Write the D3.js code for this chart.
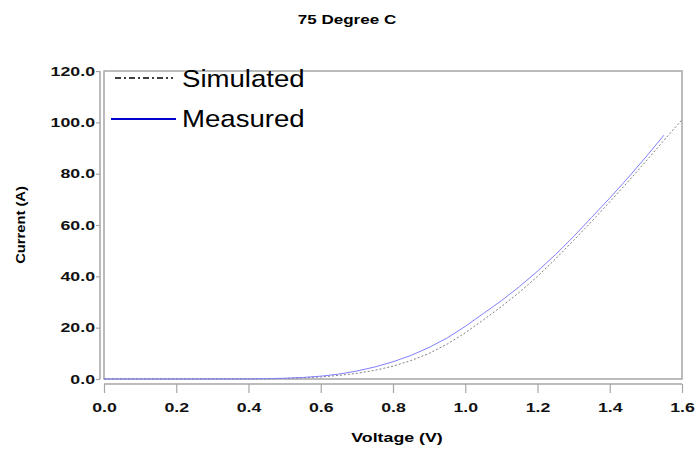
<!DOCTYPE html>
<html>
<head>
<meta charset="utf-8">
<script src="https://cdn.jsdelivr.net/npm/d3@7"></script>
<style>
  body { margin: 0; background: #fff; }
  svg { display: block; font-family: "Liberation Sans", Arial, sans-serif; }
</style>
</head>
<body>
<svg id="chart" width="698" height="451"></svg>
<script>
// Forward I-V characteristic at 75 °C
const measuredV = [0, 0.1, 0.2, 0.3, 0.4, 0.45, 0.5, 0.55, 0.6, 0.65, 0.7, 0.75, 0.8, 0.85, 0.9, 0.95,
                   1.0, 1.05, 1.1, 1.15, 1.2, 1.25, 1.3, 1.35, 1.4, 1.45, 1.5, 1.55];
const measuredI = [0, 0, 0, 0.01, 0.05, 0.12, 0.3, 0.6, 1.1, 1.9, 3.1, 4.7, 6.7, 9.2, 12.3, 16.0,
                   20.5, 25.5, 30.5, 36.0, 42.0, 48.5, 55.5, 63.0, 70.5, 78.3, 86.5, 95.0];

const simulatedV = [0, 0.1, 0.2, 0.3, 0.4, 0.45, 0.5, 0.55, 0.6, 0.65, 0.7, 0.75, 0.8, 0.85, 0.9, 0.95,
                    1.0, 1.05, 1.1, 1.15, 1.2, 1.25, 1.3, 1.35, 1.4, 1.45, 1.5, 1.55, 1.6];
const simulatedI = [0, 0, 0, 0.005, 0.03, 0.09, 0.2, 0.45, 0.8, 1.4, 2.2, 3.4, 5.0, 7.2, 10.0, 13.6,
                    18.0, 23.0, 28.2, 33.8, 40.0, 46.8, 54.0, 61.4, 69.0, 76.8, 84.8, 93.0, 101.0];

const xTicks = [0, 0.2, 0.4, 0.6, 0.8, 1.0, 1.2, 1.4, 1.6];
const yTicks = [0, 20, 40, 60, 80, 100, 120];

const title = "75 Degree C";
const xTitle = "Voltage (V)";
const yTitle = "Current (A)";
const legendLabels = ["Simulated", "Measured"];

const svg = d3.select("#chart");
const box = { left: 104, right: 682, top: 71, bottom: 379 };

const x = d3.scaleLinear().domain([0, 1.6]).range([box.left, box.right]);
const y = d3.scaleLinear().domain([0, 120]).range([box.bottom, box.top]);

const axisGray = "#a6a6a6";
const wide = 1.42; // horizontal stretch of the bold label face

// Plot frame
svg.append("rect")
  .attr("x", box.left).attr("y", box.top)
  .attr("width", box.right - box.left).attr("height", box.bottom - box.top)
  .attr("fill", "none").attr("stroke", axisGray).attr("stroke-width", 1.5);

// Y axis, set slightly apart from the frame
const yAxis = svg.append("g")
  .attr("transform", `translate(${box.left - 4},0)`)
  .call(d3.axisLeft(y).tickValues(yTicks).tickFormat(d3.format(".1f")).tickSize(4).tickPadding(2));

// X axis, below the frame
const xAxis = svg.append("g")
  .attr("transform", `translate(0,${box.bottom + 5})`)
  .call(d3.axisBottom(x).tickValues(xTicks).tickFormat(d3.format(".1f")).tickSize(9).tickPadding(10));

[yAxis, xAxis].forEach(g => {
  g.select(".domain").attr("stroke", axisGray).attr("stroke-width", 1.5);
  g.selectAll(".tick line").attr("stroke", axisGray).attr("stroke-width", 1.2);
  g.selectAll(".tick text")
    .attr("fill", "#111")
    .style("font-size", "12.5px")
    .style("font-weight", "bold")
    .style("font-family", "'Liberation Sans', Arial, sans-serif");
});
// stretch tick labels sideways while keeping their anchor points
yAxis.selectAll(".tick text")
  .attr("x", -5 / wide)
  .attr("transform", `scale(${wide},1)`);
xAxis.selectAll(".tick text")
  .attr("transform", `scale(${wide},1)`);

yAxis.select(".domain").attr("d", `M0,${y(0)}V${y(120)}`);
xAxis.select(".domain").attr("d", `M${x(0)},0H${x(1.6)}`);

// Curves
const line = d3.line().x(d => x(d[0])).y(d => y(d[1]));

svg.append("path")
  .datum(d3.zip(simulatedV, simulatedI))
  .attr("d", line)
  .attr("fill", "none")
  .attr("stroke", "#808080")
  .attr("stroke-width", 1)
  .attr("stroke-dasharray", "2,2");

svg.append("path")
  .datum(d3.zip(measuredV, measuredI))
  .attr("d", line)
  .attr("fill", "none")
  .attr("stroke", "#8080ff")
  .attr("stroke-width", 1);

// Titles (drawn at origin, stretched, then moved into place)
function stretchedText(cx, cy, str, size, rotate) {
  svg.append("text")
    .attr("transform", `translate(${cx},${cy})${rotate ? " rotate(-90)" : ""} scale(${rotate ? 1.18 : wide},1)`)
    .attr("text-anchor", "middle")
    .style("font-size", size + "px").style("font-weight", "bold")
    .text(str);
}
stretchedText(347, 24, title, 12, false);
stretchedText((box.left + box.right) / 2 + 4, 442, xTitle, 12.5, false);
stretchedText(25, (box.top + box.bottom) / 2, yTitle, 12.5, true);

// Legend
const legend = svg.append("g");
legend.append("line")
  .attr("x1", 115).attr("x2", 173).attr("y1", 78).attr("y2", 78)
  .attr("stroke", "#000").attr("stroke-width", 1.6)
  .attr("stroke-dasharray", "6,3,2,3");
legend.append("line")
  .attr("x1", 111).attr("x2", 176).attr("y1", 119).attr("y2", 119)
  .attr("stroke", "#0000cc").attr("stroke-width", 2);
legend.selectAll("text.lab")
  .data(legendLabels)
  .join("text")
  .attr("class", "lab")
  .attr("transform", (d, i) => `translate(182,${87 + i * 40}) scale(1.15,1)`)
  .style("font-size", "24px")
  .text(d => d);
</script>
</body>
</html>
